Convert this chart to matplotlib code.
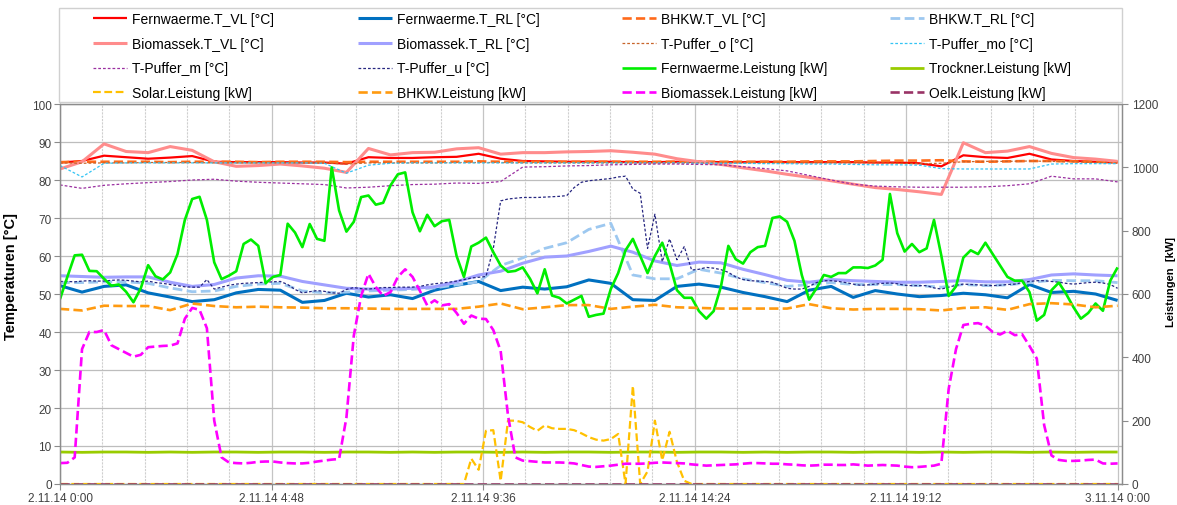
import numpy as np
import matplotlib
matplotlib.use("Agg")
import matplotlib.pyplot as plt
from matplotlib.ticker import FixedLocator
from matplotlib.patches import Rectangle

plt.rcParams['font.family'] = ['Liberation Sans', 'DejaVu Sans']

# ---------------------------------------------------------------- time base
# hours after 2.11.14 0:00; 10-minute and 30-minute logger grids
t10 = np.arange(145) / 6.0
t30 = np.arange(49) / 2.0

x_tick_hours = [0.0, 4.8, 9.6, 14.4, 19.2, 24.0]
x_tick_labels = ["2.11.14 0:00", "2.11.14 4:48", "2.11.14 9:36",
                 "2.11.14 14:24", "2.11.14 19:12", "3.11.14 0:00"]

# ---------------------------------------------------------------- temperatures [°C] (30 min)
fw_t_vl = [84.6, 85.0, 86.4, 86.0, 85.6, 85.9, 86.3, 84.8, 84.7, 84.7, 84.7, 84.6,
           84.6, 84.3, 86.0, 85.8, 85.8, 86.0, 86.1, 86.9, 85.6, 85.0, 84.9, 84.8,
           84.8, 84.8, 84.7, 84.7, 84.8, 84.8, 84.7, 84.7, 84.8, 84.7, 84.7, 84.7,
           84.7, 84.6, 84.6, 84.4, 83.6, 86.5, 86.0, 85.8, 86.9, 85.4, 85.0, 84.8,
           84.6]
fw_t_rl = [52.2, 50.5, 52.0, 52.4, 50.3, 49.2, 48.0, 48.5, 50.3, 51.2, 51.0, 47.8,
           48.3, 50.2, 49.2, 49.8, 48.8, 51.0, 52.3, 53.3, 50.9, 51.8, 51.3, 51.9,
           53.7, 52.8, 48.5, 48.3, 52.0, 52.6, 51.8, 50.4, 49.3, 48.0, 51.0, 52.0,
           49.1, 50.9, 50.0, 49.3, 49.6, 50.2, 49.8, 49.0, 52.5, 50.4, 50.7, 50.0,
           48.3]
bhkw_t_vl = [84.7, 84.8, 84.8, 84.8, 84.8, 84.7, 84.8, 84.8, 84.8, 84.7, 84.8, 84.8,
             84.8, 84.7, 84.8, 84.8, 84.8, 84.8, 84.8, 84.9, 84.8, 84.8, 84.8, 84.8,
             84.8, 84.8, 84.8, 84.8, 84.8, 84.8, 84.8, 84.8, 84.8, 84.8, 84.9, 84.9,
             84.9, 85.0, 85.1, 85.1, 85.2, 84.9, 84.8, 84.9, 85.0, 85.0, 84.9, 84.8,
             84.8]
bhkw_t_rl = [53.0, 53.0, 53.2, 53.2, 52.8, 51.6, 50.6, 50.8, 52.0, 52.6, 52.8, 50.8,
             50.3, 50.5, 50.8, 51.0, 51.2, 51.6, 52.4, 53.2, 57.5, 59.5, 62.0, 63.5,
             67.0, 68.6, 55.0, 54.0, 54.0, 56.5, 55.5, 54.0, 53.0, 52.0, 52.5, 53.0,
             52.5, 52.5, 52.5, 52.2, 51.8, 52.5, 52.2, 52.4, 53.0, 53.6, 53.5, 53.5,
             53.0]
bio_t_vl = [82.9, 84.8, 89.5, 87.5, 87.2, 88.8, 87.8, 84.8, 83.6, 83.8, 84.2, 83.7,
            83.1, 82.0, 88.3, 86.6, 87.2, 87.3, 88.2, 88.5, 86.8, 87.2, 87.2, 87.4,
            87.5, 87.7, 87.3, 86.8, 85.6, 84.8, 84.1, 83.2, 82.4, 81.5, 80.7, 79.8,
            78.9, 78.0, 77.5, 76.9, 76.2, 89.8, 87.2, 87.6, 88.8, 87.0, 85.9, 85.5,
            84.9]
bio_t_rl = [54.8, 54.6, 54.4, 54.5, 54.5, 53.1, 52.0, 52.5, 54.2, 54.8, 54.7, 53.3,
            52.4, 51.5, 51.3, 51.3, 51.5, 51.9, 53.2, 55.0, 56.0, 58.1, 59.7, 60.0,
            61.2, 62.6, 61.0, 58.7, 57.5, 58.4, 58.2, 56.5, 55.1, 53.6, 53.1, 53.8,
            53.5, 53.3, 53.1, 53.1, 53.3, 53.5, 53.2, 53.2, 53.8, 55.0, 55.3, 55.0,
            54.8]
puffer_o = [84.5, 84.4, 84.5, 84.5, 84.6, 84.6, 84.6, 84.5, 84.5, 84.5, 84.5, 84.5,
            84.5, 84.2, 84.5, 84.5, 84.5, 84.5, 84.6, 84.6, 84.6, 84.5, 84.5, 84.5,
            84.5, 84.5, 84.5, 84.5, 84.5, 84.5, 84.5, 84.5, 84.5, 84.5, 84.5, 84.5,
            84.5, 84.5, 84.4, 84.3, 84.4, 84.8, 84.9, 84.9, 85.0, 84.9, 84.8, 84.6,
            84.5]
puffer_mo = [83.8, 80.8, 84.4, 84.5, 84.5, 84.5, 84.5, 84.5, 84.5, 84.5, 84.5, 84.5,
             84.4, 81.8, 83.9, 84.4, 84.5, 84.5, 84.5, 84.5, 84.5, 84.5, 84.5, 84.5,
             84.5, 84.5, 84.5, 84.5, 84.5, 84.4, 84.4, 84.4, 84.3, 84.3, 84.2, 84.2,
             84.1, 84.0, 84.0, 83.9, 83.0, 82.9, 82.9, 82.9, 82.9, 84.2, 84.3, 84.3,
             84.3]
puffer_m = [78.7, 77.8, 78.6, 79.0, 79.3, 79.6, 80.0, 80.2, 79.7, 79.4, 79.2, 79.0,
            78.8, 77.9, 78.1, 78.5, 78.8, 78.9, 79.2, 79.1, 79.6, 83.4, 83.5, 83.7,
            83.8, 84.0, 84.1, 84.2, 84.2, 84.1, 84.0, 83.5, 83.0, 82.4, 81.2, 80.0,
            78.9, 78.4, 78.2, 78.1, 78.1, 78.1, 78.2, 78.5, 79.0, 81.0, 80.3, 80.3,
            79.5]

# buffer bottom layer (10 min)
puffer_u = [53.3, 53.3, 53.2, 53.4, 53.5, 53.4,
            53.4, 53.6, 53.7, 53.6, 53.4, 53.2,
            53.4, 53.0, 52.8, 52.5, 52.2, 51.9,
            51.8, 51.8, 53.8, 51.3, 51.8, 52.3,
            52.6, 52.8, 52.9, 53.0, 53.1, 53.2,
            53.3, 52.5, 51.2, 50.3, 50.6, 50.9,
            50.7, 50.3, 50.2, 51.2, 51.7, 51.4,
            51.3, 51.5, 51.7, 51.7, 51.8, 51.8,
            51.8, 52.0, 52.4, 52.7, 52.9, 53.1,
            53.4, 53.8, 54.2, 54.4, 54.6, 62.0,
            74.5, 75.0, 75.2, 75.4, 75.4, 75.4,
            75.5, 75.6, 75.7, 75.9, 78.0, 79.4,
            79.8, 80.0, 80.2, 80.4, 80.8, 81.0,
            77.6, 76.5, 62.0, 71.0, 58.5, 64.5,
            59.0, 62.5, 56.3, 56.5, 57.0, 56.8,
            56.4, 55.7, 54.5, 53.8, 53.5, 53.4,
            53.3, 53.1, 52.3, 51.5, 51.3, 51.3,
            52.0, 53.0, 53.5, 53.5, 53.3, 53.0,
            52.6, 52.3, 52.4, 52.6, 52.8, 52.9,
            52.7, 52.3, 52.2, 52.2, 52.2, 51.6,
            51.3, 51.8, 52.3, 52.6, 52.5, 52.4,
            52.3, 52.2, 52.3, 52.5, 52.6, 53.0,
            53.3, 53.5, 53.5, 53.3, 53.1, 52.8,
            52.6, 52.8, 53.0, 53.1, 52.9, 52.5,
            51.5]

# ---------------------------------------------------------------- powers [kW]
fw_leistung = [584, 654, 722, 724, 673, 672,
               648, 626, 630, 607, 574, 618,
               691, 656, 646, 668, 726, 834,
               900, 907, 834, 700, 647, 658,
               672, 758, 772, 752, 634, 654,
               660, 822, 794, 748, 821, 774,
               768, 1000, 864, 797, 828, 906,
               911, 882, 888, 943, 978, 984,
               858, 798, 850, 814, 830, 834,
               720, 654, 750, 762, 778, 732,
               690, 670, 673, 684, 648, 602,
               678, 595, 588, 570, 582, 594,
               528, 534, 538, 616, 666, 738,
               774, 720, 666, 720, 762, 696,
               612, 588, 588, 546, 522, 546,
               624, 752, 710, 696, 732, 748,
               752, 840, 845, 828, 768, 660,
               582, 618, 660, 654, 666, 666,
               684, 684, 682, 690, 708, 916,
               792, 734, 758, 732, 744, 834,
               721, 594, 624, 715, 738, 726,
               762, 726, 690, 654, 642, 642,
               606, 516, 534, 612, 636, 600,
               558, 522, 540, 570, 547, 642,
               684]
bio_leistung = [66, 67, 84, 426, 480, 480,
                486, 438, 426, 414, 402, 408,
                432, 434, 436, 437, 444, 522,
                556, 550, 492, 200, 84, 68,
                66, 65, 67, 70, 71, 71,
                68, 66, 65, 65, 67, 71,
                74, 77, 79, 210, 468, 594,
                664, 622, 594, 606, 654, 678,
                654, 610, 564, 580, 564, 568,
                540, 506, 532, 522, 521, 486,
                420, 216, 84, 74, 72, 70,
                68, 68, 68, 67, 65, 60,
                55, 54, 56, 58, 61, 64,
                64, 64, 65, 67, 68, 67,
                66, 65, 62, 60, 58, 59,
                60, 61, 62, 64, 66, 66,
                65, 64, 64, 62, 61, 59,
                58, 59, 61, 61, 60, 60,
                62, 60, 58, 59, 60, 59,
                58, 55, 53, 54, 56, 58,
                64, 300, 426, 502, 506, 508,
                500, 480, 472, 484, 470, 473,
                436, 396, 186, 90, 76, 73,
                73, 74, 76, 77, 65, 64,
                65]
solar_leistung = [0, 0, 0, 0, 0, 0] * 9 + [
                  0, 0, 80, 45, 168, 170,
                  10, 200, 200, 195, 180, 168,
                  185, 176, 174, 174, 170, 160,
                  148, 140, 137, 142, 158, 0,
                  310, 0, 40, 200, 75, 165,
                  70, 10, 0, 0, 0, 0] + [0, 0, 0, 0, 0, 0] * 9 + [0]
bhkw_leistung = [553, 548, 563, 562, 562, 549, 570, 562, 558, 560, 558, 557,
                 555, 555, 554, 553, 553, 553, 553, 560, 570, 552, 558, 565,
                 565, 553, 560, 566, 558, 556, 554, 554, 554, 554, 568, 555,
                 551, 553, 553, 552, 548, 556, 558, 550, 568, 571, 567, 558,
                 563]
trockner_leistung = [101, 100, 101, 101, 100, 101, 100, 101, 101, 100, 101, 101,
                     100, 101, 101, 100, 101, 100, 101, 101, 100, 101, 100, 101,
                     101, 100, 101, 101, 100, 101, 101, 100, 101, 100, 101, 101,
                     100, 101, 101, 100, 101, 100, 101, 101, 100, 101, 100, 101,
                     101]
oelk_leistung = [0] * 49

# ---------------------------------------------------------------- figure
W, H = 1177, 506
fig = plt.figure(figsize=(W / 100, H / 100), dpi=100)
left_px, right_px, top_px, bottom_px = 60, 1122, 105, 485
ax = fig.add_axes([left_px / W, 1 - bottom_px / H,
                   (right_px - left_px) / W, (bottom_px - top_px) / H])
ax2 = ax.twinx()

dash = (3.5, 1.6)
dot = (2.2, 1.6)

temp_series = [
    ("Fernwaerme.T_VL [°C]", t30, fw_t_vl, dict(color="#FF0000", lw=1.6)),
    ("Fernwaerme.T_RL [°C]", t30, fw_t_rl, dict(color="#0070C0", lw=2.2)),
    ("BHKW.T_VL [°C]", t30, bhkw_t_vl, dict(color="#FF6A1A", lw=1.9, dashes=dash)),
    ("BHKW.T_RL [°C]", t30, bhkw_t_rl, dict(color="#9DC8F0", lw=2.0, dashes=dash)),
    ("Biomassek.T_VL [°C]", t30, bio_t_vl, dict(color="#FF8C8C", lw=2.2)),
    ("Biomassek.T_RL [°C]", t30, bio_t_rl, dict(color="#A0A0FF", lw=2.2)),
    ("T-Puffer_o [°C]", t30, puffer_o, dict(color="#C8642A", lw=0.9, dashes=dot)),
    ("T-Puffer_mo [°C]", t30, puffer_mo, dict(color="#33C4F4", lw=0.9, dashes=dot)),
    ("T-Puffer_m [°C]", t30, puffer_m, dict(color="#9A2FA0", lw=0.9, dashes=dot)),
    ("T-Puffer_u [°C]", t10, puffer_u, dict(color="#262680", lw=0.9, dashes=dot)),
]
power_series = [
    ("Fernwaerme.Leistung [kW]", t10, fw_leistung, dict(color="#00EE00", lw=1.9)),
    ("Trockner.Leistung [kW]", t30, trockner_leistung, dict(color="#99CC00", lw=2.0)),
    ("Solar.Leistung [kW]", t10, solar_leistung, dict(color="#FFC000", lw=1.6, dashes=dash)),
    ("BHKW.Leistung [kW]", t30, bhkw_leistung, dict(color="#FF9A10", lw=1.9, dashes=dash)),
    ("Biomassek.Leistung [kW]", t10, bio_leistung, dict(color="#FF00FF", lw=1.9, dashes=dash)),
    ("Oelk.Leistung [kW]", t30, oelk_leistung, dict(color="#993366", lw=1.9, dashes=dash)),
]

handles = []
for label, t, vals, style in temp_series:
    ln, = ax.plot(t, vals, label=label, solid_capstyle="butt", **style)
    handles.append(ln)
for label, t, vals, style in power_series:
    ln, = ax2.plot(t, vals, label=label, solid_capstyle="butt", **style)
    handles.append(ln)

# ---------------------------------------------------------------- axes styling
ax.set_xlim(0, 24.1)
ax.set_ylim(0, 100)
ax2.set_ylim(0, 1200)

ax.xaxis.set_major_locator(FixedLocator(x_tick_hours))
ax.set_xticklabels(x_tick_labels)
ax.xaxis.set_minor_locator(FixedLocator([i * 0.96 for i in range(26)]))
ax.set_yticks(np.arange(0, 101, 10))
ax2.set_yticks(np.arange(0, 1201, 200))

ax.set_axisbelow(True)
ax.grid(True, which="major", axis="y", color="#BDBDBD", lw=0.9)
ax.grid(True, which="major", axis="x", color="#C4C4C4", lw=0.9)
ax.grid(True, which="minor", axis="x", color="#CFCFCF", lw=0.8, linestyle=(0, (2, 1)))

spine_col = "#8C8C8C"
for a in (ax, ax2):
    for s in a.spines.values():
        s.set_color(spine_col)
        s.set_linewidth(0.9)

tick_col = "#404040"
ax.tick_params(axis="both", which="major", labelsize=8.5, colors=spine_col,
               labelcolor=tick_col, length=4, width=0.8, pad=2)
ax.tick_params(axis="x", which="minor", length=0)
ax2.tick_params(axis="y", labelsize=8.5, colors=spine_col, labelcolor=tick_col,
                length=4, width=0.8, pad=3)

ax.set_ylabel("Temperaturen [°C]", fontsize=10.5, fontweight="bold", color="#000000")
ax.yaxis.set_label_coords(-0.040, 0.55)
ax2.set_ylabel("Leistungen  [kW]", fontsize=8, fontweight="bold", color="#000000")
ax2.yaxis.set_label_coords(1.041, 0.535)

# ---------------------------------------------------------------- legend (4 columns, row-wise order)
frame = Rectangle((59 / W, 1 - 103 / H), (1122 - 59) / W, (103 - 9) / H,
                  transform=fig.transFigure, fill=False, edgecolor="#D0D0D0", lw=1.0)
fig.patches.append(frame)

col_x = [93, 358, 622, 890]
for c in range(4):
    col_handles = [handles[r * 4 + c] for r in range(4)]
    leg = fig.legend(col_handles, [h.get_label() for h in col_handles],
                     loc="upper left", bbox_to_anchor=(col_x[c] / W, 1 - 13 / H),
                     frameon=False, fontsize=10, borderpad=0, borderaxespad=0,
                     handlelength=2.45, handletextpad=0.35, labelspacing=0.77)

fig.savefig("out.png", dpi=100)
